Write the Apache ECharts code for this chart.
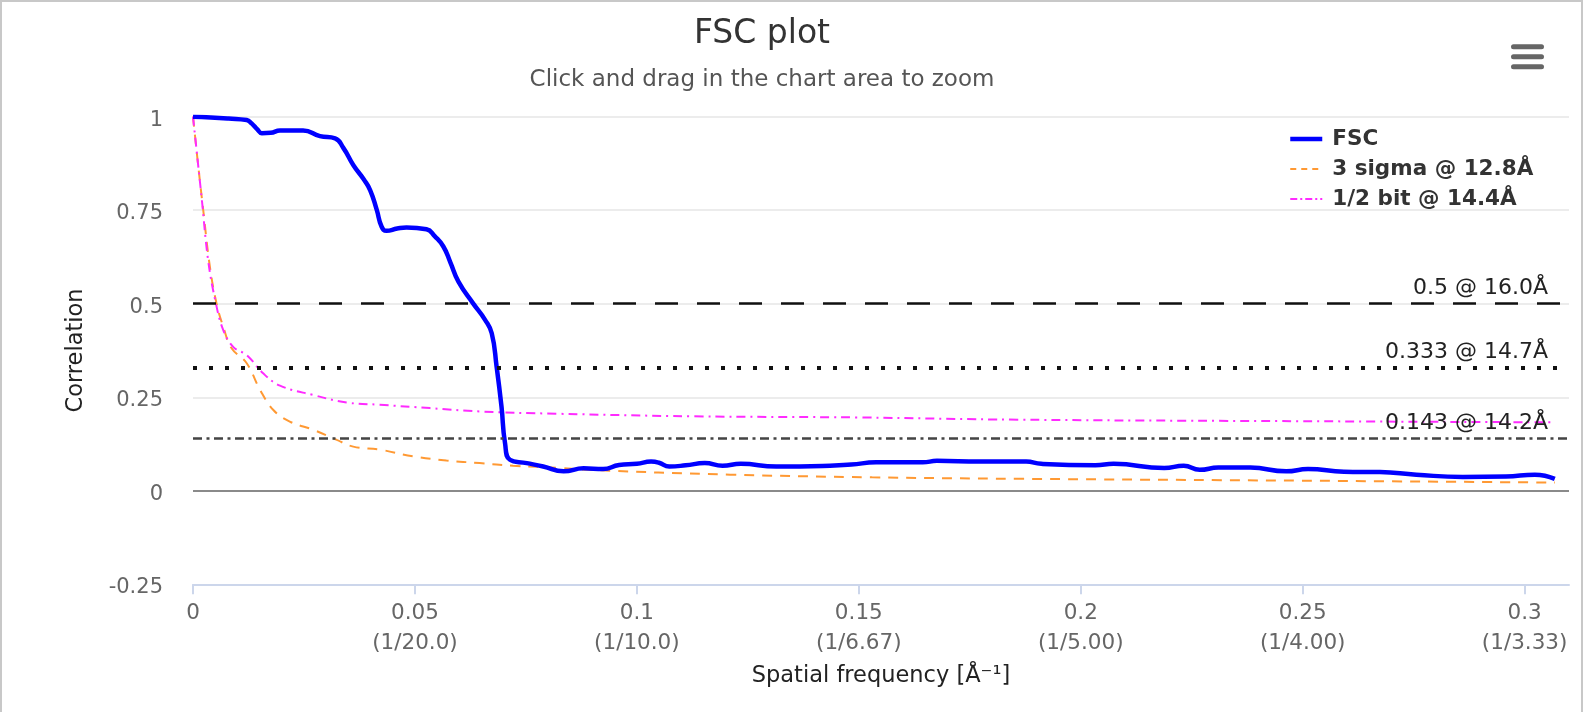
<!DOCTYPE html>
<html><head><meta charset="utf-8">
<script src="https://cdn.jsdelivr.net/npm/echarts@6/dist/echarts.min.js"></script>
<style>html,body{margin:0;padding:0;background:#fff}#c{width:1585px;height:712px}</style>
</head><body><div id="c"></div>
<script>
const fscX = [0,0.004,0.008,0.0121,0.0132,0.0145,0.0155,0.0175,0.0196,0.0248,0.0286,0.032,0.0339,0.0361,0.0385,0.0399,0.0414,0.0425,0.0436,0.046,0.0481,0.0526,0.0545,0.0564,0.058,0.0598,0.0631,0.0658,0.0673,0.0684,0.0695,0.0703,0.0714,0.0752,0.0789,0.0835,0.088,0.0924,0.096,0.1,0.1032,0.105,0.1073,0.111,0.1153,0.1193,0.1234,0.1314,0.1435,0.1483,0.1539,0.1644,0.1676,0.1772,0.1877,0.1911,0.2033,0.2074,0.2188,0.2232,0.2268,0.231,0.2382,0.2463,0.2512,0.2593,0.2674,0.2756,0.2861,0.2958,0.3023,0.3068];
const fscY = [1.0,0.998,0.995,0.991,0.982,0.966,0.956,0.957,0.963,0.963,0.948,0.942,0.916,0.871,0.832,0.804,0.751,0.706,0.695,0.701,0.704,0.699,0.68,0.653,0.61,0.559,0.501,0.457,0.421,0.332,0.225,0.127,0.083,0.074,0.065,0.052,0.060,0.058,0.069,0.072,0.078,0.075,0.065,0.068,0.074,0.067,0.072,0.065,0.067,0.070,0.076,0.076,0.080,0.078,0.078,0.072,0.068,0.072,0.061,0.067,0.056,0.062,0.062,0.052,0.058,0.051,0.050,0.043,0.037,0.038,0.043,0.032];
const sigmaX = [0,0.0012,0.0023,0.0038,0.0053,0.0068,0.0087,0.0121,0.0151,0.0181,0.0218,0.0271,0.0324,0.0361,0.0421,0.0496,0.0571,0.0646,0.0721,0.0827,0.0887,0.121,0.153,0.186,0.25,0.3068];
const sigmaY = [1.0,0.866,0.751,0.599,0.501,0.439,0.381,0.341,0.270,0.216,0.185,0.163,0.136,0.118,0.110,0.092,0.081,0.074,0.067,0.061,0.056,0.043,0.036,0.032,0.027,0.022];
const halfBitX = [0,0.0008,0.0020,0.0034,0.0050,0.0068,0.0091,0.0121,0.0158,0.0196,0.0271,0.0346,0.0421,0.0534,0.0646,0.0819,0.1128,0.15,0.186,0.25,0.3068];
const halfBitY = [1.0,0.911,0.777,0.617,0.510,0.430,0.384,0.363,0.314,0.281,0.256,0.236,0.230,0.221,0.212,0.206,0.199,0.196,0.190,0.186,0.183];
const xTicks = [0,0.05,0.1,0.15,0.2,0.25,0.3];
const xTickSub = ['','(1/20.0)','(1/10.0)','(1/6.67)','(1/5.00)','(1/4.00)','(1/3.33)'];
const thresholdValues = [0.5,0.333,0.143];
const thresholdLabels = ['0.5 @ 16.0Å','0.333 @ 14.7Å','0.143 @ 14.2Å'];
const seriesNames = ['FSC','3 sigma @ 12.8Å','1/2 bit @ 14.4Å'];

const FONT = 'DejaVu Sans, sans-serif';
const zip = (xs, ys) => xs.map((x, i) => [x, ys[i]]);

const thrStyles = [
  {color:'#111', type:[23,19], width:2.5},
  {color:'#111', type:[4,12], width:4},
  {color:'#444', type:[9,4.5,3,4.5], width:2.5}
];

const chart = echarts.init(document.getElementById('c'), null, {renderer:'canvas'});
chart.setOption({
  animation:false,
  backgroundColor:'#fff',
  title:{
    text:'FSC plot', subtext:'Click and drag in the chart area to zoom',
    left:762, textAlign:'center', top:18, itemGap:18, padding:0,
    textStyle:{fontFamily:FONT, fontSize:33, lineHeight:33, fontWeight:'normal', color:'#333'},
    subtextStyle:{fontFamily:FONT, fontSize:23, lineHeight:23, color:'#555'}
  },
  legend:{
    data:[
      {name:seriesNames[0], lineStyle:{width:4.5, type:'solid'}},
      {name:seriesNames[1], lineStyle:{width:2, type:[6,5]}},
      {name:seriesNames[2], lineStyle:{width:2, type:[7,3,2,3]}}
    ],
    orient:'vertical', left:1288, top:124,
    itemWidth:32, itemHeight:14, itemGap:0, padding:0,
    itemStyle:{opacity:0},
    textStyle:{fontFamily:FONT, fontSize:21.5, fontWeight:'bold', color:'#333', lineHeight:30, padding:[0,0,0,5]}
  },
  grid:{left:193, right:16, top:116.7, bottom:127.7, containLabel:false},
  xAxis:{
    type:'value', min:0, max:0.31,
    name:'Spatial frequency [Å⁻¹]', nameLocation:'middle', nameGap:80,
    nameTextStyle:{fontFamily:FONT, fontSize:22.5, color:'#222'},
    axisLine:{onZero:false, lineStyle:{color:'#ccd6eb', width:2}},
    axisTick:{show:true, customValues:xTicks, length:10, lineStyle:{color:'#ccd6eb', width:2}},
    axisLabel:{customValues:xTicks, margin:14, fontFamily:FONT, fontSize:21.5, lineHeight:30, color:'#666',
      formatter:function(v){const i = xTicks.findIndex(t => Math.abs(t - v) < 1e-9); return (i > 0) ? (v + '\n' + xTickSub[i]) : String(v);}},
    splitLine:{show:false}
  },
  yAxis:{
    type:'value', min:-0.25, max:1, interval:0.25,
    name:'Correlation', nameLocation:'middle', nameGap:105,
    nameTextStyle:{fontFamily:FONT, fontSize:22.5, color:'#222'},
    axisLine:{show:false}, axisTick:{show:false},
    axisLabel:{fontFamily:FONT, fontSize:21, color:'#666', margin:30, verticalAlign:'top', lineHeight:7},
    splitLine:{lineStyle:{color:'#ececec', width:2}}
  },
  series:[
    {name:seriesNames[1], type:'line', data:zip(sigmaX, sigmaY), symbol:'none', smooth:0.4, z:3,
      lineStyle:{color:'#ff9933', width:2, type:[10,8]}, itemStyle:{color:'#ff9933'}},
    {name:seriesNames[2], type:'line', data:zip(halfBitX, halfBitY), symbol:'none', smooth:0.4, z:3,
      lineStyle:{color:'#ff2bff', width:2, type:[9,5,2,5]}, itemStyle:{color:'#ff2bff'}},
    {name:seriesNames[0], type:'line', data:zip(fscX, fscY), symbol:'none', smooth:0.5, z:4,
      lineStyle:{color:'#0000ff', width:4.5}, itemStyle:{color:'#0000ff'},
      markLine:{silent:true, symbol:['none','none'], animation:false,
        data:[{yAxis:0, lineStyle:{color:'#8a8a8a', type:'solid', width:2}, label:{show:false}}].concat(
          thresholdValues.map((v, i) => ({yAxis:v, lineStyle:thrStyles[i],
            label:{show:true, position:'insideEndTop', formatter:thresholdLabels[i], distance:[21,4],
              fontFamily:FONT, fontSize:22, color:'#222'}})))
      }}
  ],
  graphic:[
    {type:'rect', shape:{x:1, y:1, width:1581, height:740}, style:{fill:'none', stroke:'#c8c8c8', lineWidth:2}, silent:true},
    {type:'rect', shape:{x:1511, y:44.2, width:33, height:5, r:2.5}, style:{fill:'#666'}},
    {type:'rect', shape:{x:1511, y:54.2, width:33, height:5, r:2.5}, style:{fill:'#666'}},
    {type:'rect', shape:{x:1511, y:64.2, width:33, height:5, r:2.5}, style:{fill:'#666'}}
  ]
});
</script></body></html>
